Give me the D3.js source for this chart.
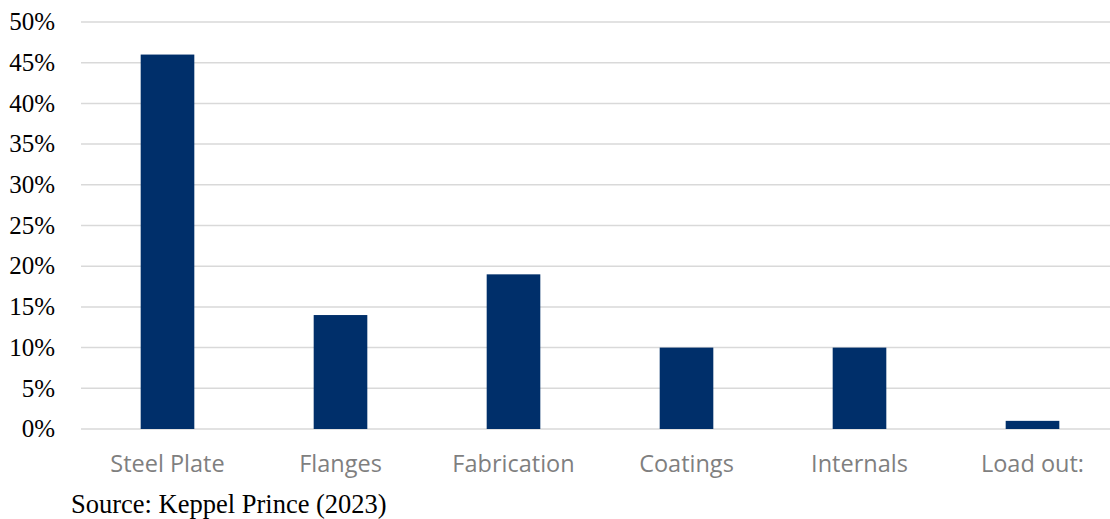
<!DOCTYPE html>
<html>
<head>
<meta charset="utf-8">
<script src="https://cdn.jsdelivr.net/npm/d3@7"></script>
<style>
  body { margin: 0; background: #fff; }
</style>
</head>
<body>
<div id="chart"></div>
<script>
var categories = ['Steel Plate', 'Flanges', 'Fabrication', 'Coatings', 'Internals', 'Load out:'];
var shares = [46, 14, 19, 10, 10, 1];
var yTicks = [0, 5, 10, 15, 20, 25, 30, 35, 40, 45, 50];
var sourceNote = 'Source: Keppel Prince (2023)';

var width = 1110, height = 519;

var svg = d3.select('#chart')
  .append('svg')
  .attr('width', width)
  .attr('height', height);

var x = d3.scaleBand()
  .domain(categories)
  .range([81, 1119])
  .paddingInner(0.69)
  .paddingOuter(0.345);

var y = d3.scaleLinear()
  .domain([0, 50])
  .range([429, 22]);

// gridlines
svg.append('g')
  .selectAll('line')
  .data(yTicks)
  .enter()
  .append('line')
  .attr('x1', 81)
  .attr('x2', 1110)
  .attr('y1', function(d) { return y(d); })
  .attr('y2', function(d) { return y(d); })
  .attr('stroke', '#d9d9d9')
  .attr('stroke-width', 1.5);

// y labels
svg.append('g')
  .selectAll('text')
  .data(yTicks)
  .enter()
  .append('text')
  .attr('x', 55)
  .attr('y', function(d) { return y(d); })
  .attr('dy', '0.33em')
  .attr('text-anchor', 'end')
  .attr('font-family', '"Liberation Serif", serif')
  .attr('font-size', '25px')
  .attr('fill', '#000')
  .text(function(d) { return d + '%'; });

// bars
svg.append('g')
  .selectAll('rect')
  .data(shares)
  .enter()
  .append('rect')
  .attr('x', function(d, i) { return x(categories[i]); })
  .attr('width', x.bandwidth())
  .attr('y', function(d) { return y(d); })
  .attr('height', function(d) { return y(0) - y(d); })
  .attr('fill', '#002f6a');

// x labels
svg.append('g')
  .selectAll('text')
  .data(categories)
  .enter()
  .append('text')
  .attr('x', function(d) { return x(d) + x.bandwidth() / 2; })
  .attr('y', 472)
  .attr('text-anchor', 'middle')
  .attr('font-family', '"Open Sans", "Liberation Sans", sans-serif')
  .attr('font-size', '23.5px')
  .attr('fill', '#7f7f7f')
  .text(function(d) { return d; });

svg.append('text')
  .attr('x', 71)
  .attr('y', 513)
  .attr('font-family', '"Liberation Serif", serif')
  .attr('font-size', '26.5px')
  .attr('fill', '#000')
  .text(sourceNote);
</script>
</body>
</html>
